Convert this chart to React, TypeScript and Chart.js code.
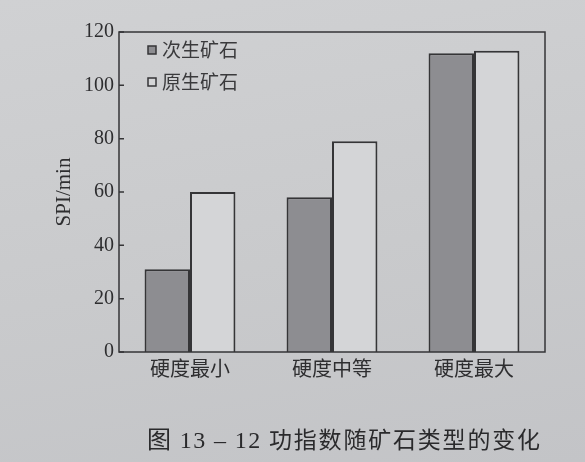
import React, { useRef, useEffect } from 'react';
import { Chart, registerables, Plugin } from 'chart.js';

Chart.register(...registerables);

const categories = ['硬度最小', '硬度中等', '硬度最大'];
const seriesNames = ['次生矿石', '原生矿石'];
const secondaryOre = [31, 58, 112];
const primaryOre = [60, 79, 113];
const yTicks = [0, 20, 40, 60, 80, 100, 120];
const yTitle = 'SPI/min';
const captionNumber = '图 13 – 12 ';
const captionText = '功指数随矿石类型的变化';

const ink = '#353537';
const darkFill = '#8d8d91';
const lightFill = '#d4d5d7';
const serif = '"Liberation Serif", "DejaVu Serif", serif';
const cjk = '"Noto Sans CJK SC", "Noto Sans", sans-serif';

// box round the plot, short inward ticks on the y axis, legend in the top-left corner
const framePlugin: Plugin<'bar'> = {
    id: 'frame',
    afterDatasetsDraw(chart) {
        const { ctx, chartArea: a } = chart;
        const y = chart.scales.y;
        ctx.save();
        ctx.strokeStyle = ink;
        ctx.lineWidth = 1.5;
        ctx.strokeRect(a.left, a.top, a.width, a.height);
        ctx.beginPath();
        y.ticks.forEach(t => {
            const py = y.getPixelForValue(t.value);
            ctx.moveTo(a.left, py);
            ctx.lineTo(a.left + 5, py);
        });
        ctx.stroke();

        ctx.font = '19px ' + cjk;
        ctx.textBaseline = 'middle';
        chart.data.datasets.forEach((ds, i) => {
            const cy = a.top + 18 + i * 32;
            const sx = a.left + 29;
            ctx.fillStyle = ds.backgroundColor as string;
            ctx.fillRect(sx, cy - 4, 8, 8);
            ctx.lineWidth = 1.5;
            ctx.strokeRect(sx, cy - 4, 8, 8);
            ctx.fillStyle = '#3a3a3c';
            ctx.fillText(ds.label as string, sx + 14, cy);
        });
        ctx.restore();
    }
};

const App: React.FC = () => {
    const chartRef = useRef<HTMLCanvasElement>(null);
    const chartInstance = useRef<Chart | null>(null);

    useEffect(() => {
        document.body.style.margin = '0';
        if (chartInstance.current) {
            chartInstance.current.destroy();
        }
        const ctx = chartRef.current?.getContext('2d');
        if (ctx) {
            chartInstance.current = new Chart(ctx, {
                type: 'bar',
                data: {
                    labels: categories,
                    datasets: [
                        {
                            label: seriesNames[0],
                            data: secondaryOre,
                            backgroundColor: darkFill,
                            borderColor: ink,
                            borderWidth: 2,
                            categoryPercentage: 0.64,
                            barPercentage: 1
                        },
                        {
                            label: seriesNames[1],
                            data: primaryOre,
                            backgroundColor: lightFill,
                            borderColor: ink,
                            borderWidth: 2,
                            categoryPercentage: 0.64,
                            barPercentage: 1
                        }
                    ]
                },
                options: {
                    responsive: false,
                    animation: false,
                    layout: { padding: { left: 0, right: 40, top: 32, bottom: 78 } },
                    plugins: {
                        legend: { display: false },
                        tooltip: { enabled: false }
                    },
                    scales: {
                        x: {
                            grid: { display: false, drawTicks: false },
                            border: { display: false },
                            ticks: {
                                color: '#2e2e30',
                                padding: 4,
                                font: { family: cjk, size: 20 }
                            }
                        },
                        y: {
                            min: 0,
                            max: 120,
                            afterBuildTicks: s => { s.ticks = yTicks.map(v => ({ value: v })); },
                            grid: { display: false, drawTicks: false },
                            border: { display: false },
                            ticks: {
                                color: '#2e2e30',
                                padding: 5,
                                font: { family: serif, size: 20 }
                            },
                            title: {
                                display: true,
                                text: yTitle,
                                color: '#2e2e30',
                                padding: { top: 52, bottom: 0 },
                                font: { family: serif, size: 21 }
                            },
                            afterFit: s => { s.width = 119; }
                        }
                    }
                },
                plugins: [framePlugin]
            });
        }
        return () => {
            chartInstance.current?.destroy();
        };
    }, []);

    return (
        <div style={{
            position: 'relative',
            width: 585,
            height: 462,
            background: 'linear-gradient(170deg, #d0d1d3 0%, #c9cacc 55%, #c3c4c7 100%)'
        }}>
            <canvas ref={chartRef} width={585} height={462}></canvas>
            <div style={{
                position: 'absolute',
                left: 147,
                top: 420,
                color: '#2a2a2c',
                whiteSpace: 'nowrap',
                fontFamily: '"Liberation Serif", "Noto Sans CJK SC", serif',
                fontSize: 24
            }}>
                <span style={{ letterSpacing: 1.4 }}>{captionNumber}</span>
                <span style={{ fontFamily: cjk, fontSize: 23, letterSpacing: 1.8 }}>{captionText}</span>
            </div>
        </div>
    );
};

export default App;
